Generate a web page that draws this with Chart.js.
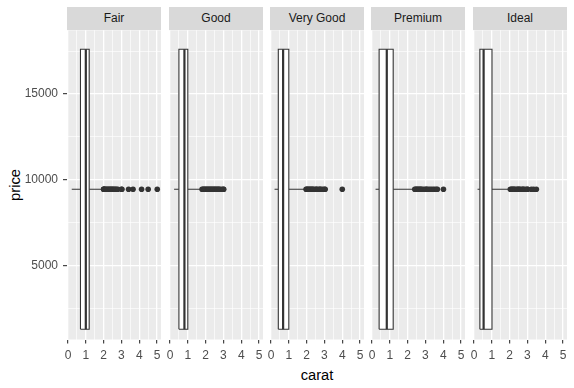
<!DOCTYPE html>
<html lang="en">
<head>
<meta charset="UTF-8">
<title>price vs carat by cut</title>
<script src="https://cdn.jsdelivr.net/npm/chart.js"></script>
<style>
    body {
        margin: 0;
        background: #ffffff;
        width: 574px;
        height: 388px;
        overflow: hidden;
        position: relative;
        font-family: "Liberation Sans", Arial, sans-serif;
    }
    canvas { position: absolute; top: 0; }
    .strip {
        position: absolute;
        top: 7.3px;
        height: 23px;
        background: #D9D9D9;
        color: #1A1A1A;
        font-size: 12px;
        line-height: 23px;
        text-align: center;
    }
    #ytitle {
        position: absolute; left: 15px; top: 185px;
        transform: translate(-50%, -50%) rotate(-90deg);
        font-size: 14.7px; color: #000;
    }
    #xtitle {
        position: absolute; left: 317px; top: 375px;
        transform: translate(-50%, -50%);
        font-size: 14.7px; color: #000;
    }
</style>
</head>
<body>
<div id="ytitle">price</div>
<div id="xtitle">carat</div>

<script>
// data
var cuts = ['Fair', 'Good', 'Very Good', 'Premium', 'Ideal'];
var q1 = [0.70, 0.50, 0.41, 0.40, 0.33];
var medians = [1.00, 0.81, 0.68, 0.83, 0.54];
var q3 = [1.19, 1.00, 1.00, 1.19, 1.01];
var whiskerLow = [0.21, 0.23, 0.20, 0.20, 0.20];
var whiskerHigh = [1.91, 1.76, 1.93, 2.27, 1.93];
var outliers = [
    [2.0, 2.01, 2.02, 2.04, 2.1, 2.14, 2.2, 2.25, 2.3, 2.36, 2.4, 2.45, 2.5, 2.55, 2.6, 2.66, 2.72, 2.8, 3.01, 3.02, 3.4, 3.65, 4.13, 4.5, 5.01],
    [1.8, 1.85, 1.9, 1.95, 2.0, 2.05, 2.1, 2.15, 2.2, 2.25, 2.3, 2.35, 2.4, 2.45, 2.5, 2.55, 2.6, 2.65, 2.7, 2.75, 2.8, 2.9, 3.0, 3.01],
    [1.97, 2.0, 2.05, 2.1, 2.15, 2.2, 2.25, 2.3, 2.35, 2.4, 2.5, 2.55, 2.6, 2.7, 2.75, 2.8, 2.9, 3.0, 3.04, 4.0],
    [2.4, 2.45, 2.5, 2.55, 2.6, 2.65, 2.7, 2.75, 2.8, 2.9, 3.0, 3.05, 3.1, 3.2, 3.3, 3.4, 3.5, 3.6, 3.67, 4.01],
    [2.04, 2.1, 2.15, 2.2, 2.25, 2.3, 2.4, 2.45, 2.5, 2.55, 2.6, 2.7, 2.75, 2.8, 2.9, 3.0, 3.01, 3.22, 3.35, 3.5]
];
var boxPrice = [1300, 9450, 17600];   // low edge, whisker level, high edge
var xTicks = [0, 1, 2, 3, 4, 5];
var yTicks = [5000, 10000, 15000];

// layout
var W = 574, H = 388;
var PANEL_W = 94, PAD = 10;
var panelLeft = [67, 169, 270, 371, 473];
var AREA_TOP = 30.3, AREA_BOTTOM = 339.5;
var xRange = [-0.056, 5.22], yRange = [700, 18707];

// minor breaks halfway between the major ones
function withMinors(ticks, lo, hi) {
    var step = ticks[1] - ticks[0];
    var out = [];
    for (var v = ticks[0] - step / 2; v <= ticks[ticks.length - 1] + step / 2 + 1e-9; v += step / 2) {
        if (v >= lo && v <= hi) out.push(+v.toFixed(4));
    }
    return out;
}
var xGrid = withMinors(xTicks, xRange[0], xRange[1]);
var yGrid = withMinors(yTicks, yRange[0], yRange[1]);

Chart.defaults.font.family = '"Liberation Sans", Arial, sans-serif';

var panelBg = {
    id: 'panelBg',
    beforeDraw: function (chart) {
        var a = chart.chartArea, ctx = chart.ctx;
        ctx.save();
        ctx.fillStyle = '#EBEBEB';
        ctx.fillRect(a.left, a.top, a.right - a.left, a.bottom - a.top);
        ctx.restore();
    }
};

function gridOpts(major, showTicks) {
    return {
        color: '#FFFFFF',
        lineWidth: function (c) { return c.tick && major.indexOf(c.tick.value) >= 0 ? 1.3 : 0.65; },
        drawTicks: showTicks,
        tickLength: 4,
        tickWidth: 1.1,
        tickColor: function (c) { return c.tick && major.indexOf(c.tick.value) >= 0 ? '#333333' : 'rgba(0,0,0,0)'; }
    };
}

cuts.forEach(function (cut, i) {
    var first = i === 0;
    var strip = document.createElement('div');
    strip.className = 'strip';
    strip.style.left = panelLeft[i] + 'px';
    strip.style.width = PANEL_W + 'px';
    strip.textContent = cut;
    document.body.appendChild(strip);

    var cv = document.createElement('canvas');
    var cLeft = first ? 0 : panelLeft[i] - PAD;
    var w = first ? panelLeft[0] + PANEL_W + PAD : PANEL_W + 2 * PAD;
    cv.width = w; cv.height = H;
    cv.style.left = cLeft + 'px';
    cv.style.width = w + 'px';
    cv.style.height = H + 'px';
    document.body.appendChild(cv);

    var lo = boxPrice[0], mid = boxPrice[1], hi = boxPrice[2];
    var line = { showLine: true, pointRadius: 0, borderColor: '#333333', borderWidth: 1.1, fill: false };

    new Chart(cv.getContext('2d'), {
        type: 'scatter',
        data: {
            datasets: [
                Object.assign({}, line, { data: [{ x: medians[i], y: lo }, { x: medians[i], y: hi }], borderWidth: 2.2 }),
                Object.assign({}, line, {
                    data: [{ x: q1[i], y: lo }, { x: q3[i], y: lo }, { x: q3[i], y: hi }, { x: q1[i], y: hi }, { x: q1[i], y: lo }],
                    fill: 'shape', backgroundColor: '#FFFFFF'
                }),
                Object.assign({}, line, { data: [{ x: whiskerLow[i], y: mid }, { x: q1[i], y: mid }] }),
                Object.assign({}, line, { data: [{ x: q3[i], y: mid }, { x: whiskerHigh[i], y: mid }] }),
                {
                    data: outliers[i].map(function (v) { return { x: v, y: mid }; }),
                    pointRadius: 2.8, pointBackgroundColor: '#333333', pointBorderWidth: 0, showLine: false
                }
            ]
        },
        options: {
            responsive: false,
            animation: false,
            events: [],
            layout: { padding: { left: first ? 0 : PAD, right: PAD, top: AREA_TOP, bottom: 0 } },
            plugins: { legend: { display: false }, tooltip: { enabled: false } },
            scales: {
                x: {
                    type: 'linear', min: xRange[0], max: xRange[1],
                    afterBuildTicks: function (s) { s.ticks = xGrid.map(function (v) { return { value: v }; }); },
                    afterFit: function (s) { s.height = H - AREA_BOTTOM; },
                    border: { display: false },
                    grid: gridOpts(xTicks, true),
                    ticks: {
                        color: '#4D4D4D', font: { size: 12 }, padding: 4.5,
                        maxRotation: 0, autoSkip: false,
                        callback: function (v) { return xTicks.indexOf(v) >= 0 ? String(v) : ''; }
                    }
                },
                y: {
                    type: 'linear', min: yRange[0], max: yRange[1],
                    afterBuildTicks: function (s) { s.ticks = yGrid.map(function (v) { return { value: v }; }); },
                    afterFit: function (s) { s.width = first ? panelLeft[0] : 0; },
                    border: { display: false },
                    grid: gridOpts(yTicks, first),
                    ticks: {
                        display: first,
                        color: '#4D4D4D', font: { size: 12 }, padding: 5, autoSkip: false,
                        callback: function (v) { return yTicks.indexOf(v) >= 0 ? String(v) : ''; }
                    }
                }
            }
        },
        plugins: [panelBg]
    });
});
</script>
</body>
</html>
